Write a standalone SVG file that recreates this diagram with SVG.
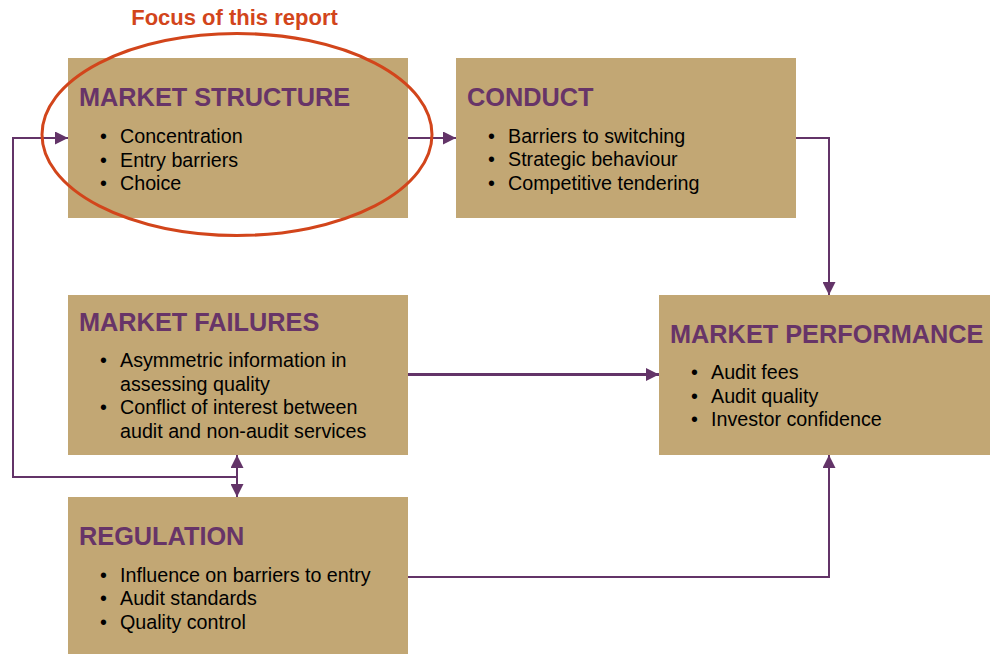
<svg xmlns="http://www.w3.org/2000/svg" width="990" height="654" viewBox="0 0 990 654">
<defs>
<style>
.box{fill:#C2A774}
.hd{font-family:"Liberation Sans",Arial,sans-serif;font-weight:bold;font-size:25.3px;fill:#673468}
.tx{font-family:"Liberation Sans",Arial,sans-serif;font-size:19.7px;fill:#000}
.cn{fill:none;stroke:#633468;stroke-width:2}
.focus{font-family:"Liberation Sans",Arial,sans-serif;font-weight:bold;font-size:22px;fill:#D2451B}
</style>
<marker id="ah" viewBox="0 0 13 13" refX="13" refY="6.5" markerWidth="13" markerHeight="13" markerUnits="userSpaceOnUse" orient="auto-start-reverse">
<path d="M0,0 L13,6.5 L0,13 Z" fill="#633468"/>
</marker>
<marker id="ah2" viewBox="0 0 13 13" refX="13" refY="6.5" markerWidth="13" markerHeight="13" markerUnits="userSpaceOnUse" orient="auto">
<path d="M0,0 L13,6.5 L0,13 Z" fill="#633468"/>
</marker>
</defs>
<rect width="990" height="654" fill="#fff"/>
<g id="market-structure">
<rect class="box" x="68" y="58" width="340" height="160"/>
<text class="hd" x="79" y="106">MARKET STRUCTURE</text>
<text class="tx"><tspan x="100" y="143">•</tspan><tspan x="120" y="143">Concentration</tspan><tspan x="100" y="166.5">•</tspan><tspan x="120" y="166.5">Entry barriers</tspan><tspan x="100" y="190">•</tspan><tspan x="120" y="190">Choice</tspan></text>
</g>
<g id="conduct">
<rect class="box" x="456" y="58" width="340" height="160"/>
<text class="hd" x="467" y="106">CONDUCT</text>
<text class="tx"><tspan x="488" y="143">•</tspan><tspan x="508" y="143">Barriers to switching</tspan><tspan x="488" y="166">•</tspan><tspan x="508" y="166">Strategic behaviour</tspan><tspan x="488" y="189.5">•</tspan><tspan x="508" y="189.5">Competitive tendering</tspan></text>
</g>
<g id="market-failures">
<rect class="box" x="68" y="295" width="340" height="160"/>
<text class="hd" x="79" y="331">MARKET FAILURES</text>
<text class="tx"><tspan x="100" y="367">•</tspan><tspan x="120" y="367">Asymmetric information in</tspan><tspan x="120" y="390.5">assessing quality</tspan><tspan x="100" y="414">•</tspan><tspan x="120" y="414">Conflict of interest between</tspan><tspan x="120" y="437.5">audit and non-audit services</tspan></text>
</g>
<g id="market-performance">
<rect class="box" x="659" y="295" width="331" height="160"/>
<text class="hd" x="670" y="343">MARKET PERFORMANCE</text>
<text class="tx"><tspan x="691" y="379">•</tspan><tspan x="711" y="379">Audit fees</tspan><tspan x="691" y="402.5">•</tspan><tspan x="711" y="402.5">Audit quality</tspan><tspan x="691" y="426">•</tspan><tspan x="711" y="426">Investor confidence</tspan></text>
</g>
<g id="regulation">
<rect class="box" x="68" y="497" width="340" height="157"/>
<text class="hd" x="79" y="545">REGULATION</text>
<text class="tx"><tspan x="100" y="582">•</tspan><tspan x="120" y="582">Influence on barriers to entry</tspan><tspan x="100" y="605">•</tspan><tspan x="120" y="605">Audit standards</tspan><tspan x="100" y="628.5">•</tspan><tspan x="120" y="628.5">Quality control</tspan></text>
</g>
<g id="connectors">
<path class="cn" d="M408,138 H456" marker-end="url(#ah)"/>
<path class="cn" d="M237,477 H13 V138 H68" marker-end="url(#ah)"/>
<path class="cn" d="M237,455 V497" marker-start="url(#ah)" marker-end="url(#ah)"/>
<path class="cn" d="M796,138 H829 V295" marker-end="url(#ah)"/>
<path class="cn" d="M408,374.5 H659" style="stroke-width:3" marker-end="url(#ah2)"/>
<path class="cn" d="M408,577 H829 V455" marker-end="url(#ah)"/>
</g>
<g id="focus">
<ellipse cx="237" cy="134.5" rx="195" ry="101" fill="none" stroke="#D2451B" stroke-width="3"/>
<text class="focus" x="234.5" y="25" text-anchor="middle">Focus of this report</text>
</g>
</svg>
